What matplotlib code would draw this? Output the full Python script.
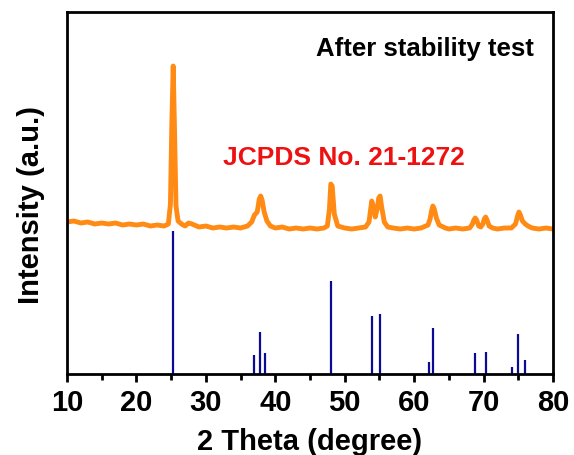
import matplotlib.pyplot as plt
from matplotlib.ticker import MultipleLocator

# measured XRD trace (after stability test), intensity in a.u.
two_theta = [10, 11, 12, 13, 14, 15, 16, 17, 18, 19, 20, 21, 22, 23, 24, 24.6, 24.9, 25.1, 25.3, 25.5,
             25.7, 26.0, 26.5, 27.0, 27.5, 28.0, 29, 30, 31, 32, 33, 34, 35, 36, 36.6, 37.0, 37.4, 37.7,
             37.9, 38.1, 38.4, 38.8, 39.3, 40, 41, 42, 43, 44, 45, 46, 47, 47.5, 47.8, 48.0, 48.2, 48.5,
             49, 50, 51, 52, 53, 53.5, 53.7, 53.9, 54.1, 54.4, 54.7, 54.9, 55.1, 55.3, 55.7, 56.2, 57, 58,
             59, 60, 61, 62, 62.3, 62.5, 62.7, 62.9, 63.2, 63.6, 64.5, 65, 66, 67, 68, 68.4, 68.6, 68.8,
             69.0, 69.3, 69.6, 69.9, 70.1, 70.3, 70.5, 70.8, 71.3, 72, 73, 74, 74.6, 74.9, 75.1, 75.3,
             75.6, 76.0, 76.4, 77, 78, 79, 80]
intensity = [152, 153, 151, 152, 150, 151, 150, 151, 149, 150, 149, 150, 148, 149, 148, 150, 170, 250, 308, 240,
             168, 153, 150, 148, 151, 150, 147, 148, 146, 147, 146, 147, 146, 148, 152, 159, 162, 175,
             178, 174, 162, 153, 148, 146, 147, 145, 146, 145, 146, 145, 146, 148, 165, 190, 188, 160,
             148, 146, 145, 146, 147, 152, 163, 173, 168, 157, 166, 176, 178, 168, 152, 147, 146, 145,
             146, 145, 146, 149, 155, 163, 168, 165, 156, 149, 146, 145, 146, 145, 146, 150, 154, 156,
             154, 148, 147, 150, 155, 157, 154, 148, 146, 145, 146, 146, 150, 158, 162, 159,
             153, 150, 148, 146, 145, 146, 145]

# reference pattern JCPDS 21-1272
ref_pos = [25.28, 36.95, 37.80, 38.58, 48.05, 53.89, 55.06, 62.12, 62.69, 68.76, 70.31, 74.03, 75.03, 76.02]
ref_int = [143, 19, 42, 21, 93, 58, 60, 12, 46, 21, 22, 7, 40, 14]

plt.rcParams['font.family'] = ['Liberation Sans', 'DejaVu Sans']
plt.rcParams['font.weight'] = 'bold'

fig = plt.figure(figsize=(5.74, 4.56), dpi=100)
ax = fig.add_axes([0.1167, 0.1776, 0.8467, 0.7939])

ax.plot(two_theta, intensity, color='#FF8A14', lw=3.5)
ax.vlines(ref_pos, 0, ref_int, color='#0A0A96', lw=1.6)

ax.set_xlim(10, 80)
ax.set_ylim(0, 362)
ax.xaxis.set_major_locator(MultipleLocator(10))
ax.xaxis.set_minor_locator(MultipleLocator(5))
ax.set_yticks([])
for s in ax.spines.values():
    s.set_linewidth(2)
ax.tick_params(axis='x', which='major', direction='out', length=6, width=2, labelsize=21, pad=4)
ax.tick_params(axis='x', which='minor', direction='out', length=4, width=2)

ax.set_xlabel('2 Theta (degree)', fontsize=21, fontweight='bold', labelpad=8)
ax.set_ylabel('Intensity (a.u.)', fontsize=21, fontweight='bold')
ax.yaxis.set_label_coords(-0.045, 0.47)

ax.text(0.96, 0.9, 'After stability test', transform=ax.transAxes, ha='right', va='center',
        fontsize=18.5, fontweight='bold', color='black')
ax.text(0.322, 0.6, 'JCPDS No. 21-1272', transform=ax.transAxes, ha='left', va='center',
        fontsize=19, fontweight='bold', color='#EE1111')

fig.savefig('out.png', dpi=100)
